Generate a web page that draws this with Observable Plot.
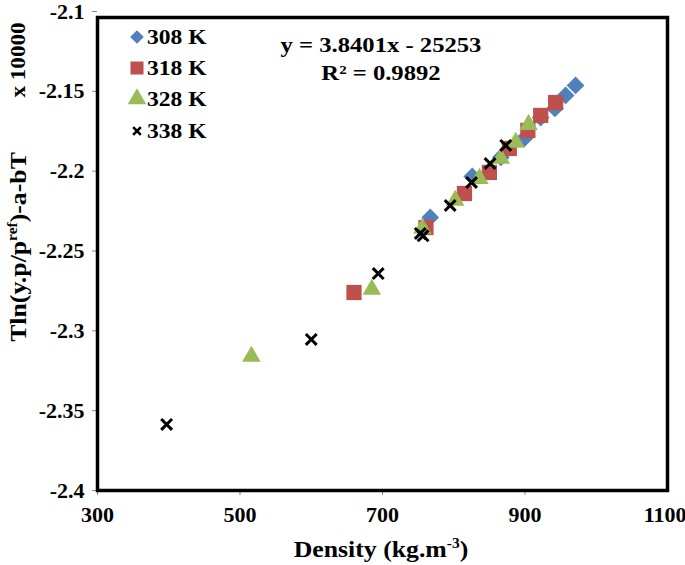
<!DOCTYPE html>
<html><head><meta charset="utf-8">
<script src="https://cdn.jsdelivr.net/npm/d3@7"></script>
<script src="https://cdn.jsdelivr.net/npm/@observablehq/plot@0.6"></script>
<style>
body{margin:0;background:#fff;}
#wrap{position:relative;width:685px;height:565px;font-family:"Liberation Serif","Times New Roman",serif;font-weight:bold;color:#000;}
.ov{position:absolute;white-space:nowrap;line-height:1;}
sup{font-size:0.6em;vertical-align:0.6em;line-height:0;}
</style></head><body><div id="wrap"></div>
<script>
const series = ["308 K", "318 K", "328 K", "338 K"];
const colors = ["#4F81BD", "#C0504D", "#9BBB59", "#000000"];
const symbols = ["diamond2", "square", "triangle", "times"];

const density308 = [971, 957, 942, 922, 899, 866, 826, 767];
const value308   = [-2.1463, -2.1526, -2.1607, -2.1664, -2.1795, -2.1914, -2.2033, -2.2290];
const density318 = [943, 922, 904, 878, 850, 815, 761, 660];
const value318   = [-2.1570, -2.1651, -2.1745, -2.1858, -2.2008, -2.2140, -2.2353, -2.2760];
const density328 = [905, 887, 866, 836, 802, 756, 685, 516];
const value328   = [-2.1708, -2.1820, -2.1920, -2.2046, -2.2183, -2.2359, -2.2741, -2.3160];
const density338 = [873, 851, 825, 795, 753, 757, 694, 600, 397];
const value338   = [-2.1839, -2.1952, -2.2071, -2.2215, -2.2390, -2.2405, -2.2641, -2.3054, -2.3586];

const xTicks = [300, 500, 700, 900, 1100];
const yTicks = [-2.1, -2.15, -2.2, -2.25, -2.3, -2.35, -2.4];
const equation = "y = 3.8401x - 25253";
const r2 = "R² = 0.9892";

const densities = [density308, density318, density328, density338];
const values = [value308, value318, value328, value338];
const rows = series.map((s, i) => densities[i].map((d, j) => ({series: s, density: d, value: values[i][j]})));
const sizes = [8.0, 8.6, 6.9, 5.0];
const font = "'Liberation Serif','Times New Roman',serif";
const lastTick = xTicks[xTicks.length - 1];

const plot = Plot.plot({
  width: 685, height: 565,
  marginLeft: 97, marginRight: 18, marginTop: 11, marginBottom: 75,
  style: {fontFamily: font, fontWeight: "bold", fontSize: "22px", color: "#000", background: "#fff", overflow: "visible"},
  x: {domain: [300, 1100]},
  y: {domain: [-2.4, -2.1]},
  symbol: {domain: series, range: symbols},
  color: {domain: series, range: colors},
  marks: [
    Plot.axisX({ticks: xTicks.slice(0, -1), tickSize: 5, tickPadding: 11, stroke: "#888", fill: "#000", label: null,
      fontSize: 22, fontFamily: font, fontWeight: "bold", tickFormat: d => String(d)}),
    Plot.axisX({ticks: [lastTick], tickSize: 5, tickPadding: 11, stroke: "#888", fill: "#000", label: null,
      fontSize: 22, fontFamily: font, fontWeight: "bold", tickFormat: d => String(d), textAnchor: "end", dx: 19}),
    Plot.axisY({ticks: yTicks, tickSize: 5, tickPadding: 8, stroke: "#888", fill: "#000", label: null,
      fontSize: 22, fontFamily: font, fontWeight: "bold", tickFormat: d => String(d)}),
    Plot.frame({stroke: "#000", strokeWidth: 3.5, insetTop: 6}),
    ...rows.map((data, i) => Plot.dot(data, {
      x: "density", y: "value", symbol: "series", r: sizes[i],
      fill: i < 3 ? "series" : "none",
      stroke: i === 3 ? "series" : "none",
      strokeWidth: 3
    }))
  ]
});

const wrap = document.getElementById("wrap");
wrap.appendChild(plot);

function addOv(html, x, y, size, transform) {
  const d = document.createElement("div");
  d.className = "ov";
  d.style.left = x + "px";
  d.style.top = y + "px";
  d.style.fontSize = size + "px";
  d.style.transform = transform;
  d.innerHTML = html;
  wrap.appendChild(d);
  return d;
}
addOv("Density (kg.m<sup>-3</sup>)", 381, 549, 23, "translate(-50%,-50%) scaleX(1.12)");
addOv("Tln(y.p/p<sup>ref</sup>)-a-bT", 18, 247, 23, "translate(-50%,-50%) rotate(-90deg) scaleX(1.12)");
addOv("x 10000", 18, 60, 21, "translate(-50%,-50%) rotate(-90deg) scaleX(1.1)");
addOv(equation, 381, 45, 22, "translate(-50%,-50%) scaleX(1.12)");
addOv(r2, 381, 73, 22, "translate(-50%,-50%) scaleX(1.12)");

// legend
const legendY = [37, 68, 99, 131];
const d3sym = {diamond2: d3.symbolDiamond2, square: d3.symbolSquare, triangle: d3.symbolTriangle, times: d3.symbolTimes};
const legendSize = [120, 170, 150, 40];
series.forEach((s, i) => {
  const path = d3.symbol(d3sym[symbols[i]], legendSize[i])();
  const svg = `<svg width="20" height="20" style="position:absolute;left:-10px;top:-10px;overflow:visible"><path transform="translate(10,10)" d="${path}" fill="${i < 3 ? colors[i] : "none"}" stroke="${i === 3 ? colors[i] : "none"}" stroke-width="2.6"/></svg>`;
  const m = document.createElement("div");
  m.style.cssText = `position:absolute;left:137px;top:${legendY[i]}px;width:0;height:0;`;
  m.innerHTML = svg;
  wrap.appendChild(m);
  addOv(s, 147, legendY[i], 22, "translateY(-50%) scaleX(1.07)").style.transformOrigin = "0 50%";
});
</script></body></html>
